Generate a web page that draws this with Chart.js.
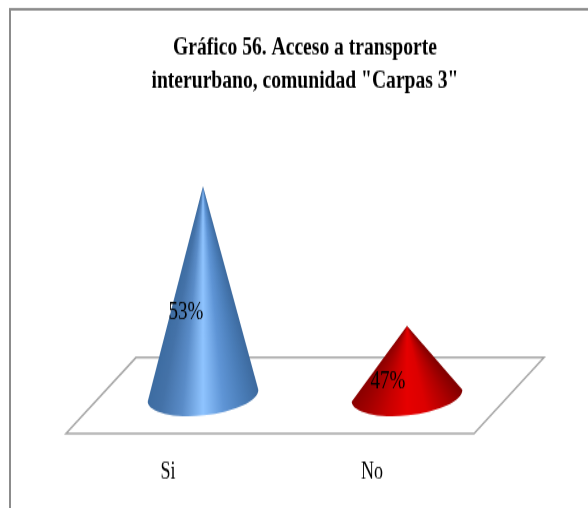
<!DOCTYPE html>
<html>
<head>
<meta charset="utf-8">
<style>
  html, body { margin: 0; padding: 0; background: #fff; width: 588px; height: 508px; }
  /* the picture is a chart pasted in and pulled taller, so stretch the canvas the same way */
  #frame { width: 588px; height: 508px; overflow: hidden; }
  #wrap { width: 588px; height: 382px; transform: scaleY(1.3298); transform-origin: 0 0; }
</style>
<script src="https://cdn.jsdelivr.net/npm/chart.js@4"></script>
</head>
<body>
<div id="frame"><div id="wrap"><canvas id="chart" width="588" height="382"></canvas></div></div>
<script>
const categories = ["Si", "No"];
const values = [53, 47];
const titleLines = ["Gráfico 56. Acceso a transporte", "interurbano, comunidad \"Carpas 3\""];

// stops run from the right edge of the cone to its left edge
const coneStops = [
    ["#3a6699", "#4a7db8", "#5f95d6", "#8fc4ff", "#5a8cc8", "#4472a8", "#3a6a9f"],
    ["#7a0000", "#b00000", "#dc0000", "#e60000", "#c80000", "#a00000", "#7c0000"]
];

// Outer frame (top and left only are visible) and the floor under the cones
const floorPlugin = {
    id: "floor",
    beforeDatasetsDraw(chart) {
        const { ctx, chartArea: a } = chart;
        ctx.save();
        ctx.strokeStyle = "#8c8c8c";
        ctx.lineWidth = 2;
        ctx.beginPath();
        ctx.moveTo(10, chart.height);
        ctx.lineTo(10, 7);
        ctx.lineTo(chart.width, 7);
        ctx.stroke();

        ctx.strokeStyle = "#a6a6a6";
        ctx.lineWidth = 1.5;
        ctx.beginPath();
        ctx.moveTo(a.left - 35, a.bottom + 28.6);
        ctx.lineTo(a.right - 35, a.bottom + 28.6);
        ctx.lineTo(a.right + 35, a.bottom - 28.6);
        ctx.lineTo(a.left + 35, a.bottom - 28.6);
        ctx.closePath();
        ctx.stroke();
        ctx.restore();
    }
};

// Draws each bar as a cone, shaded with a conic gradient from the tip
const conePlugin = {
    id: "cones",
    afterDatasetsDraw(chart) {
        const { ctx } = chart;
        const tilt = -4.67 * Math.PI / 180;
        chart.getDatasetMeta(0).data.forEach((bar, i) => {
            const rx = 55.5, ry = 15;
            const half = Math.atan(rx / (bar.base - bar.y)) * 1.08;
            const g = ctx.createConicGradient(Math.PI / 2 - half, bar.x, bar.y);
            coneStops[i].forEach((c, k) => {
                g.addColorStop((k / (coneStops[i].length - 1)) * (2 * half) / (2 * Math.PI), c);
            });
            ctx.save();
            ctx.fillStyle = g;
            ctx.beginPath();
            ctx.moveTo(bar.x, bar.y);
            ctx.ellipse(bar.x, bar.base, rx, ry, tilt, 0, Math.PI);
            ctx.closePath();
            ctx.fill();
            ctx.restore();
        });
    }
};

// Percent labels sit on the cones, off to the left
const labelPlugin = {
    id: "pctLabels",
    afterDraw(chart) {
        const { ctx } = chart;
        const spots = [[-17, 95], [-19, 42]];
        ctx.save();
        ctx.font = "19px 'Liberation Serif'";
        ctx.fillStyle = "#000";
        ctx.textAlign = "center";
        ctx.textBaseline = "middle";
        chart.getDatasetMeta(0).data.forEach((bar, i) => {
            ctx.fillText(values[i] + "%", bar.x + spots[i][0], bar.y + spots[i][1]);
        });
        ctx.restore();
    }
};

new Chart(document.getElementById("chart"), {
    type: "bar",
    data: {
        labels: categories,
        datasets: [{ data: values, base: 44, backgroundColor: "transparent", borderWidth: 0 }]
    },
    options: {
        responsive: false,
        animation: false,
        layout: { padding: { left: 101, right: 79, top: 0, bottom: 16 } },
        plugins: {
            legend: { display: false },
            tooltip: { enabled: false },
            title: {
                display: true,
                text: titleLines,
                color: "#000",
                font: { family: "'Liberation Serif'", size: 19.6, weight: "bold", lineHeight: 1.3 },
                padding: { top: 23, bottom: 66 }
            }
        },
        scales: {
            x: {
                grid: { display: false, tickLength: 47 },
                border: { display: false },
                ticks: {
                    color: "#000",
                    font: { family: "'Liberation Serif'", size: 18 },
                    padding: 0,
                    labelOffset: -35,
                    maxRotation: 0
                }
            },
            y: { display: false, min: 44, max: 53 }
        }
    },
    plugins: [floorPlugin, conePlugin, labelPlugin]
});
</script>
</body>
</html>
